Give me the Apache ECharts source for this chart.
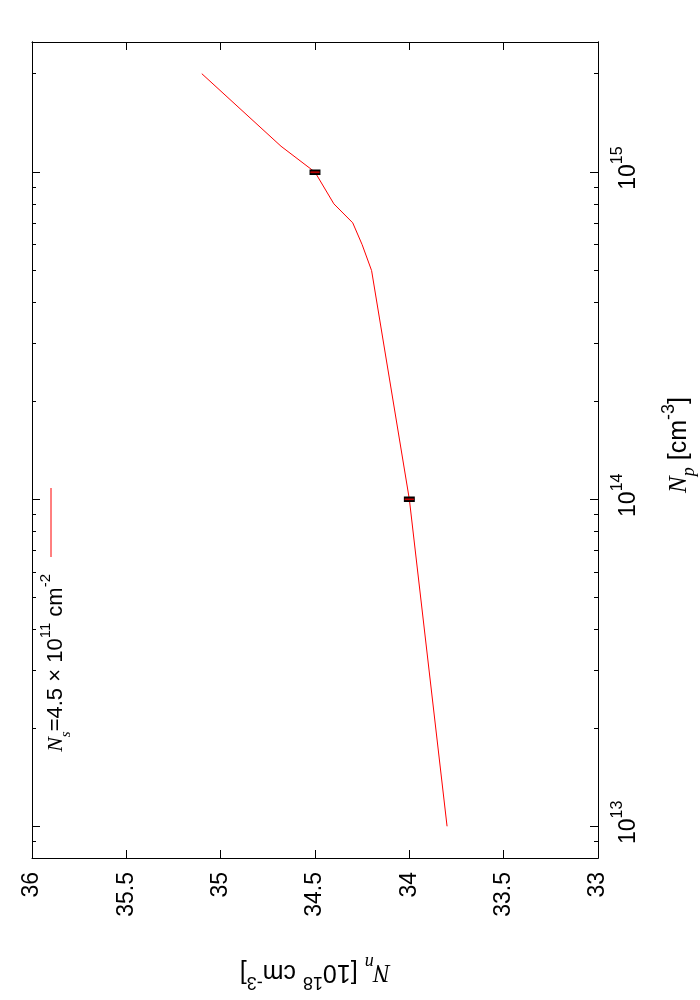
<!DOCTYPE html>
<html><head><meta charset="utf-8">
<script src="https://cdn.jsdelivr.net/npm/echarts@6/dist/echarts.min.js"></script>
<style>html,body{margin:0;padding:0;background:#fff}#c{width:700px;height:1000px}</style>
</head><body><div id="c"></div>
<script>
// data (N_p in cm^-3, N_n in 10^18 cm^-3)
const Np = [1e13, 1e14, 5e14, 6e14, 7e14, 8e14, 1e15, 1.2e15, 2e15];
const Nn = [33.8, 34.0, 34.2, 34.25, 34.3, 34.4, 34.5, 34.68, 35.1];
// error bars
const errNp = [1e14, 1e15];
const errNn = [34.0, 34.5];
const errSize = [0.025, 0.025];
// ticks
const npMajor = [1e13, 1e14, 1e15];
const npExp = ['13', '14', '15'];
const npMinor = [9e12, 2e13, 3e13, 4e13, 5e13, 6e13, 7e13, 8e13, 9e13,
                 2e14, 3e14, 4e14, 5e14, 6e14, 7e14, 8e14, 9e14, 2e15];
const legendText = '{n|N}{sub|s}{t|=4.5 × 10}{sup|11}{t| cm}{sup|-2}';
const xTitle = '{n|N}{sub|n}{t| [10}{sup|18}{t| cm}{sup|-3}{t|]}';
const yTitle = '{n|N}{sub|p}{t| [cm}{sup|-3}{t|]}';

const SANS = 'Liberation Sans';
const SERIF = 'Liberation Serif';
function makeRich(fs, sfs, L, padB) {
  return {
    t: {fontFamily: SANS, fontSize: fs, lineHeight: L, color: '#000'},
    b: {fontFamily: SANS, fontSize: fs, lineHeight: L, color: '#000', padding: [0, 0, 0, padB || 0]},
    n: {fontFamily: SERIF, fontStyle: 'italic', fontSize: fs, lineHeight: L, color: '#000', padding: [0, 0, 0, padB || 0]},
    sup: {fontFamily: SANS, fontSize: sfs, lineHeight: sfs + 1, verticalAlign: 'top', color: '#000'},
    sub: {fontFamily: SERIF, fontStyle: 'italic', fontSize: sfs, lineHeight: Math.round(L * 0.68), verticalAlign: 'bottom', color: '#000'}
  };
}
const richTick = makeRich(23, 16, 37, 8);
const richTitle = makeRich(25, 18, 38, 0);
const richTitleP = makeRich(25, 18, 38, 10);
const richLegend = makeRich(22, 15, 36, 0);

const chart = echarts.init(document.getElementById('c'), null, {renderer: 'canvas'});
const LOGMIN = 8e12, LOGMAX = 2.5e15;
const axisLine = {show: true, lineStyle: {color: '#000', width: 1}};

function yAx(pos, major, withLabel) {
  const ax = {
    type: 'log', position: pos, min: LOGMIN, max: LOGMAX,
    axisLine: axisLine,
    splitLine: {show: false},
    axisTick: {show: true, inside: true, length: major ? 8 : 4,
      customValues: major ? npMajor : npMinor,
      lineStyle: {color: '#000', width: 1}},
    axisLabel: {show: false}
  };
  if (withLabel) {
    ax.axisLabel = {
      show: true, customValues: npMajor, rotate: 90, margin: 12,
      formatter: function (v) {
        const i = npMajor.findIndex(m => Math.abs(m - v) / m < 1e-6);
        return '{b|10}{sup|' + (i >= 0 ? npExp[i] : '') + '}';
      },
      rich: richTick
    };
    ax.name = yTitle;
    ax.nameLocation = 'middle';
    ax.nameRotate = 90;
    ax.nameGap = 62;
    ax.nameTextStyle = {rich: richTitleP};
  }
  return ax;
}

const option = {
  animation: false,
  backgroundColor: '#fff',
  grid: {left: 32, right: 102, top: 42, bottom: 142, containLabel: false, outerBoundsMode: 'none'},
  xAxis: [
    {
      type: 'value', position: 'bottom', min: 33, max: 36, interval: 0.5, inverse: true,
      axisLine: axisLine, splitLine: {show: false},
      axisTick: {inside: true, length: 8, lineStyle: {color: '#000', width: 1}},
      axisLabel: {rotate: 90, margin: 14, fontSize: 23, fontFamily: SANS, color: '#000'},
      name: xTitle,
      nameLocation: 'middle', nameRotate: 180, nameGap: 95,
      nameTextStyle: {rich: richTitle}
    },
    {
      type: 'value', position: 'top', min: 33, max: 36, interval: 0.5, inverse: true,
      axisLine: axisLine, splitLine: {show: false},
      axisTick: {inside: true, length: 8, lineStyle: {color: '#000', width: 1}},
      axisLabel: {show: false}
    }
  ],
  yAxis: [
    yAx('right', true, true),
    yAx('right', false, false),
    yAx('left', true, false),
    yAx('left', false, false)
  ],
  graphic: [
    {type: 'line', shape: {x1: 51, y1: 488, x2: 51, y2: 557},
     style: {stroke: '#ff0000', lineWidth: 1}},
    {type: 'text', x: 56, y: 574, rotation: Math.PI / 2,
     style: {text: legendText, rich: richLegend, align: 'right', verticalAlign: 'middle'}}
  ],
  series: [
    {
      type: 'line', xAxisIndex: 0, yAxisIndex: 0,
      data: Nn.map((v, i) => [v, Np[i]]),
      showSymbol: false, symbol: 'none',
      lineStyle: {color: '#ff0000', width: 1}, z: 3
    },
    {
      type: 'custom', xAxisIndex: 0, yAxisIndex: 0, z: 4,
      data: errNn.map((v, i) => [v, errNp[i], errSize[i]]),
      encode: {x: 0, y: 1},
      renderItem: function (params, api) {
        const x = api.value(0), y = api.value(1), e = api.value(2);
        const lo = api.coord([x - e, y]);
        const hi = api.coord([x + e, y]);
        const yy = lo[1];
        const x0 = Math.min(lo[0], hi[0]), w = Math.abs(hi[0] - lo[0]);
        return {type: 'group', children: [
          {type: 'rect', shape: {x: x0, y: yy - 2, width: w, height: 4},
           style: {fill: '#330000', stroke: '#000', lineWidth: 1.5}},
          {type: 'line', shape: {x1: lo[0], y1: yy, x2: hi[0], y2: yy},
           style: {stroke: '#ff0000', lineWidth: 1}}
        ]};
      }
    }
  ]
};
chart.setOption(option);
</script></body></html>
